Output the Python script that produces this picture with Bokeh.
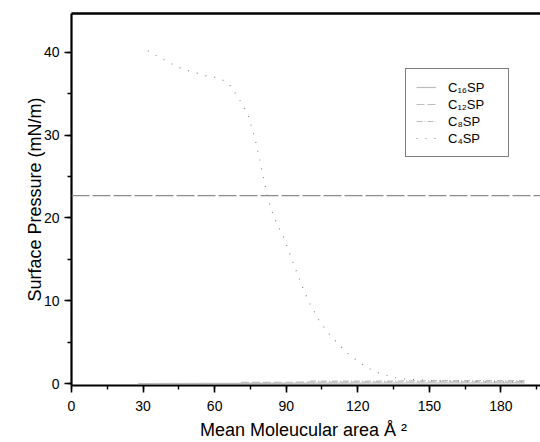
from bokeh.plotting import figure
from bokeh.models import (Range1d, SingleIntervalTicker, FixedTicker, LinearAxis,
                          Legend, LegendItem, Span)
from bokeh.embed import file_html
from bokeh.resources import INLINE

# ---- data ----
c4_area = [32, 40, 45, 50, 56, 62, 66, 70, 74, 77, 80, 82.5, 85, 89, 93, 97,
           100, 104, 108, 112, 116, 120, 124, 128, 132, 136, 140, 146, 152,
           160, 170, 180, 190]
c4_pressure = [40.2, 38.9, 38.2, 37.7, 37.2, 36.9, 36.2, 34.5, 32.5, 29.5,
               25.5, 22.2, 20.0, 17.6, 14.5, 11.5, 9.6, 7.5, 6.0, 4.7, 3.6,
               2.7, 1.9, 1.35, 1.0, 0.7, 0.55, 0.42, 0.33, 0.27, 0.22, 0.2, 0.18]

c16_area = [28, 60, 100, 140, 190]
c16_pressure = [0.0, 0.02, 0.04, 0.06, 0.08]

c12_area = [71, 100, 135, 165, 190]
c12_pressure = [0.14, 0.16, 0.18, 0.2, 0.22]

c8_area = [100, 135, 152, 172, 190]
c8_pressure = [0.28, 0.3, 0.34, 0.36, 0.36]

series_labels = ["C\u2081\u2086SP", "C\u2081\u2082SP", "C\u2088SP", "C\u2084SP"]
x_title = "Mean Moleucular area  \u00c5 \u00b2"
y_title = "Surface Pressure (mN/m)"
ref_level = 22.7

FONT = "Liberation Sans"

p = figure(width=540, height=442, output_backend="svg", toolbar_location=None,
           x_range=Range1d(0, 196.6), y_range=Range1d(-0.24, 44.7),
           min_border_left=71, min_border_right=0, min_border_top=13,
           min_border_bottom=57, background_fill_color="white",
           border_fill_color="white", outline_line_color=None)
p.xgrid.visible = False
p.ygrid.visible = False

# axes
p.xaxis.ticker = SingleIntervalTicker(interval=30, num_minor_ticks=2)
p.yaxis.ticker = SingleIntervalTicker(interval=10, num_minor_ticks=2)
for ax in (p.xaxis[0], p.yaxis[0]):
    ax.axis_line_color = "black"
    ax.axis_line_width = 2.2
    ax.major_tick_line_color = "black"
    ax.major_tick_line_width = 1.6
    ax.minor_tick_line_color = "black"
    ax.minor_tick_line_width = 1.4
    ax.major_tick_out = 7
    ax.major_tick_in = 0
    ax.minor_tick_out = 4
    ax.minor_tick_in = 0
    ax.major_label_text_font = FONT
    ax.major_label_text_font_size = "14px"
    ax.major_label_text_color = "black"
    ax.axis_label_text_font = FONT
    ax.axis_label_text_font_size = "18px"
    ax.axis_label_text_font_style = "normal"
    ax.axis_label_text_color = "black"

p.xaxis.axis_label = x_title
p.yaxis.axis_label = y_title
p.xaxis.major_label_standoff = 8
p.xaxis.axis_label_standoff = 6
p.yaxis.major_label_standoff = 5
p.yaxis.axis_label_standoff = -4

top = LinearAxis(ticker=FixedTicker(ticks=[]), axis_line_width=2.6,
                 axis_line_color="black", major_label_text_font_size="0px",
                 major_tick_out=0, minor_tick_out=0)
p.add_layout(top, "above")

# gray horizontal line across the chart
p.add_layout(Span(location=ref_level, dimension="width", line_color="#8c8c8c",
                  line_width=1.3, line_dash="18 3"))

r16 = p.line(c16_area, c16_pressure, line_color="#bdbdbd", line_width=1.2)
r12 = p.line(c12_area, c12_pressure, line_color="#bdbdbd", line_width=1.2,
             line_dash="8 3")
r8 = p.line(c8_area, c8_pressure, line_color="#bdbdbd", line_width=1.2,
            line_dash="6 2 1 2")
r4 = p.line(c4_area, c4_pressure, line_color="#8a8a8a", line_width=1.2,
            line_dash="1 8")

legend = Legend(items=[LegendItem(label=series_labels[0], renderers=[r16]),
                       LegendItem(label=series_labels[1], renderers=[r12]),
                       LegendItem(label=series_labels[2], renderers=[r8]),
                       LegendItem(label=series_labels[3], renderers=[r4])],
                location=(334, 228), padding=10, spacing=1,
                glyph_width=20, glyph_height=16, label_height=16,
                label_width=50, label_standoff=12,
                label_text_font=FONT, label_text_font_size="13px",
                label_text_color="black",
                border_line_color="black", border_line_width=1.3,
                background_fill_color="white", background_fill_alpha=1.0)
p.add_layout(legend)

open("out.html", "w").write(file_html(p, INLINE))
